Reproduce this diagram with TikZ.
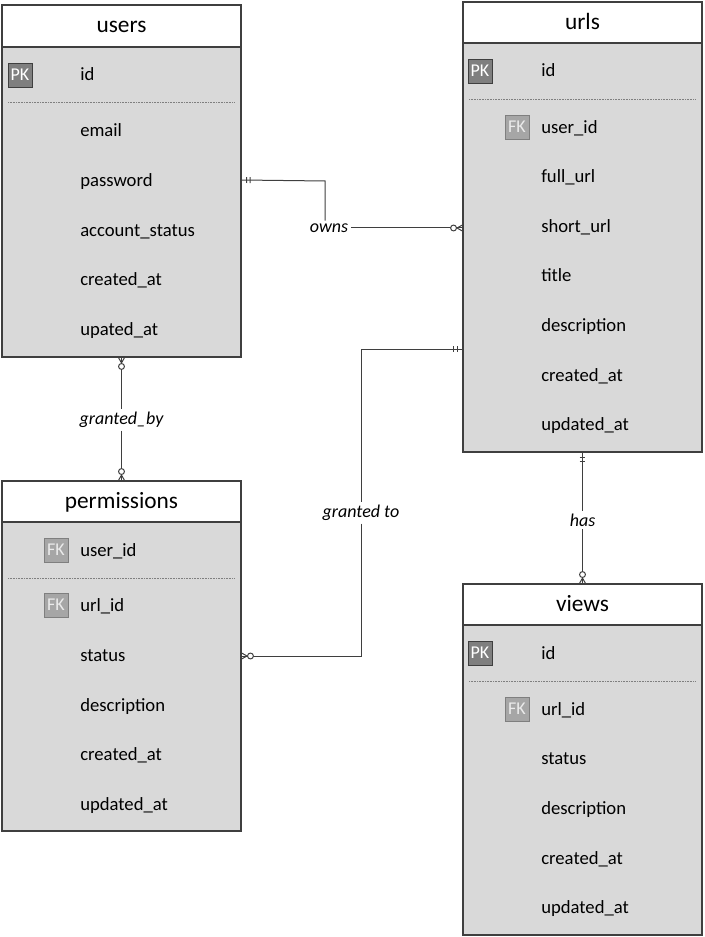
\documentclass[tikz,border=0pt]{standalone}
\usepackage{fontspec}
\setmainfont{Carlito}
\usetikzlibrary{positioning,decorations.markings}

\definecolor{boxgray}{HTML}{D9D9D9}
\definecolor{edgegray}{HTML}{3F3F3F}
\definecolor{pkgray}{HTML}{7F7F7F}
\definecolor{fkgray}{HTML}{A6A6A6}

\tikzset{
  one start/.style={postaction={decorate,decoration={markings,
      mark=at position 4.2pt with {\draw[edgegray,line width=.75pt] (0,-2.2pt)--(0,2.2pt);},
      mark=at position 6.8pt with {\draw[edgegray,line width=.75pt] (0,-2.2pt)--(0,2.2pt);}}}},
  many start/.style={postaction={decorate,decoration={markings,
      mark=at position 4.5pt with {\draw[edgegray,line width=.75pt] (0,0)--(-4.5pt,2.5pt) (0,0)--(-4.5pt,-2.5pt);
        \draw[edgegray,line width=.75pt,fill=white] (2.6pt,0) circle (2.2pt);}}}},
  many end/.style={postaction={decorate,decoration={markings,
      mark=at position -4.5pt with {\draw[edgegray,line width=.75pt] (0,0)--(4.5pt,2.5pt) (0,0)--(4.5pt,-2.5pt);
        \draw[edgegray,line width=.75pt,fill=white] (-2.6pt,0) circle (2.2pt);}}}}
}

\begin{document}
\begin{tikzpicture}[x=0.75pt,y=-0.75pt]
\tikzstyle{title}=[draw=edgegray,fill=white,line width=.8pt,outer sep=0pt,minimum width=179.25pt,minimum height=30.75pt,font=\fontsize{17.5}{20}\selectfont,text height=2.5ex,text depth=.45ex]
\tikzstyle{body}=[draw=edgegray,fill=boxgray,line width=.8pt,outer sep=0pt,minimum width=179.25pt]
\tikzstyle{field}=[anchor=west,inner sep=0pt,font=\fontsize{14}{16}\selectfont,text height=2.3ex,text depth=.3ex]
\tikzstyle{pk}=[draw=edgegray,fill=pkgray,text=white,minimum size=18pt,inner sep=0pt,font=\fontsize{13.5}{14}\selectfont]
\tikzstyle{fk}=[draw=pkgray,fill=fkgray,text=white!92!black,minimum size=18pt,inner sep=0pt,font=\fontsize{13.5}{14}\selectfont]
\tikzstyle{sep}=[pkgray,line width=.6pt,dash pattern=on .6pt off .6pt]
\tikzstyle{lbl}=[fill=white,inner sep=2pt,font=\fontsize{13.5}{15}\selectfont\itshape]
\tikzstyle{conn}=[edgegray,line width=.75pt]
\useasboundingbox (0,0) rectangle (704,937);

% users
\node[title,minimum height=31.5pt] (users) at (121.5,26) {users};
\node[body,below=0pt of users,minimum height=232.5pt] (usersbody) {};
\node[pk] (u-pk) at (20,75) {PK};
\node[field] (u-id) at (80,74) {id};
\draw[sep] (8,102) -- (235,102);
\node[field] (u-email) at (80,130) {email};
\node[field] (u-password) at (80,180) {password};
\node[field] (u-status) at (80,230) {account\_status};
\node[field] (u-created) at (80,279) {created\_at};
\node[field] (u-updated) at (80,329) {upated\_at};

% urls
\node[title] (urls) at (582.5,22.5) {urls};
\node[body,below=0pt of urls,minimum height=306.75pt] (urlsbody) {};
\node[pk] (r-pk) at (480,71) {PK};
\node[field] (r-id) at (541,70) {id};
\draw[sep] (469,99) -- (696,99);
\node[fk] (r-fk) at (517,127) {FK};
\node[field] (r-user) at (541,127) {user\_id};
\node[field] (r-full) at (541,176) {full\_url};
\node[field] (r-short) at (541,226) {short\_url};
\node[field] (r-title) at (541,275) {title};
\node[field] (r-desc) at (541,325) {description};
\node[field] (r-created) at (541,375) {created\_at};
\node[field] (r-updated) at (541,424) {updated\_at};

% permissions
\node[title] (permissions) at (121.5,501.5) {permissions};
\node[body,below=0pt of permissions,minimum height=231.75pt] (permbody) {};
\node[fk] (p-fk1) at (56,550) {FK};
\node[field] (p-user) at (80,550) {user\_id};
\draw[sep] (8,578) -- (235,578);
\node[fk] (p-fk2) at (56,605) {FK};
\node[field] (p-url) at (80,605) {url\_id};
\node[field] (p-status) at (80,655) {status};
\node[field] (p-desc) at (80,705) {description};
\node[field] (p-created) at (80,754) {created\_at};
\node[field] (p-updated) at (80,804) {updated\_at};

% views
\node[title] (views) at (582.5,604.5) {views};
\node[body,below=0pt of views,minimum height=232.5pt] (viewsbody) {};
\node[pk] (v-pk) at (480,653) {PK};
\node[field] (v-id) at (541,653) {id};
\draw[sep] (469,681) -- (696,681);
\node[fk] (v-fk) at (517,709) {FK};
\node[field] (v-url) at (541,709) {url\_id};
\node[field] (v-status) at (541,758) {status};
\node[field] (v-desc) at (541,808) {description};
\node[field] (v-created) at (541,858) {created\_at};
\node[field] (v-updated) at (541,907) {updated\_at};

% relations
\node[lbl] (owns) at (329,228) {owns};
\node[lbl] (grantedby) at (121.5,420) {granted\_by};
\node[lbl] (grantedto) at (361,513) {granted to};
\node[lbl] (has) at (582.5,520) {has};
\coordinate (ownscorner) at (325,181);
\coordinate (gtcorner) at (361,349);

\draw[conn,one start] (usersbody.east |- u-password) -- (ownscorner) -- (ownscorner |- owns.north);
\draw[conn,many end] (owns.east) -- (urlsbody.west |- owns.east);
\draw[conn,many start] (usersbody.south) -- (grantedby.north);
\draw[conn,many end] (grantedby.south) -- (permissions.north);
\draw[conn,one start] (urlsbody.west |- gtcorner) -- (gtcorner) -- (grantedto.north);
\draw[conn,many end] (grantedto.south) |- (permbody.east |- 0,656);
\draw[conn,one start] (urlsbody.south) -- (has.north);
\draw[conn,many end] (has.south) -- (views.north);
\end{tikzpicture}
\end{document}
